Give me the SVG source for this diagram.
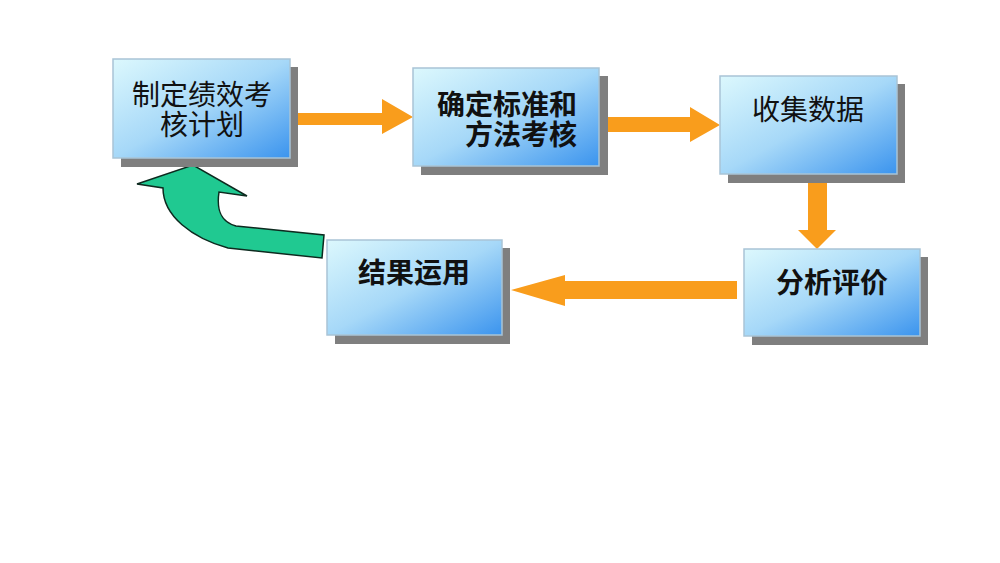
<svg xmlns="http://www.w3.org/2000/svg" width="1000" height="563" viewBox="0 0 1000 563">
<defs>
<linearGradient id="boxg" x1="0" y1="0" x2="1" y2="1">
<stop offset="0" stop-color="#dcf8fd"/>
<stop offset="0.5" stop-color="#a6d8f8"/>
<stop offset="1" stop-color="#3b94ee"/>
</linearGradient>
<style>
.shadow{fill:#7f7f7f}
.box{fill:url(#boxg);stroke:#a9c4d6;stroke-width:1.5}
.t{font-family:"Liberation Sans","Noto Sans CJK SC",sans-serif;font-size:28px;fill:#111}
.b{font-weight:bold}
.arr{fill:#f99d1c}
.green{fill:#20c991;stroke:#0d2a1f;stroke-width:1.5;stroke-linejoin:miter}
</style>
</defs>
<rect width="1000" height="563" fill="#ffffff"/>
<g id="connectors">
<polygon class="arr" points="295,113 382,113 382,99 413,117 382,134 382,125 295,125"/>
<polygon class="arr" points="603,117 690,117 690,107 720,125 690,142 690,132 603,132"/>
<polygon class="arr" points="808,177 827,177 827,230 836,230 817,249 798,230 808,230"/>
<polygon class="arr" points="737,281 565,281 565,275 511,290 565,306 565,299 737,299"/>
<path class="green" d="M324,235 L322,258 L228,248 C192,238 163,216 163,188 L137,184 L193,165 L247,196 L219,192 C216,212 222,222 236,226 Z"/>
</g>
<g id="node1">
<rect class="shadow" x="121" y="67" width="177" height="100"/>
<rect class="box" x="113" y="59" width="177" height="99"/>
<text class="t" x="202" y="105" text-anchor="middle">制定绩效考</text>
<text class="t" x="202" y="135" text-anchor="middle">核计划</text>
</g>
<g id="node2">
<rect class="shadow" x="421" y="76" width="187" height="99"/>
<rect class="box" x="413" y="68" width="186" height="98"/>
<text class="t b" x="577" y="115" text-anchor="end">确定标准和</text>
<text class="t b" x="577" y="145" text-anchor="end">方法考核</text>
</g>
<g id="node3">
<rect class="shadow" x="728" y="84" width="177" height="99"/>
<rect class="box" x="720" y="76" width="177" height="98"/>
<text class="t" x="808" y="120" text-anchor="middle">收集数据</text>
</g>
<g id="node4">
<rect class="shadow" x="752" y="257" width="176" height="88"/>
<rect class="box" x="744" y="249" width="176" height="87"/>
<text class="t b" x="832" y="293" text-anchor="middle">分析评价</text>
</g>
<g id="node5">
<rect class="shadow" x="335" y="248" width="175" height="96"/>
<rect class="box" x="327" y="240" width="175" height="95"/>
<text class="t b" x="414" y="283" text-anchor="middle">结果运用</text>
</g>
</svg>
